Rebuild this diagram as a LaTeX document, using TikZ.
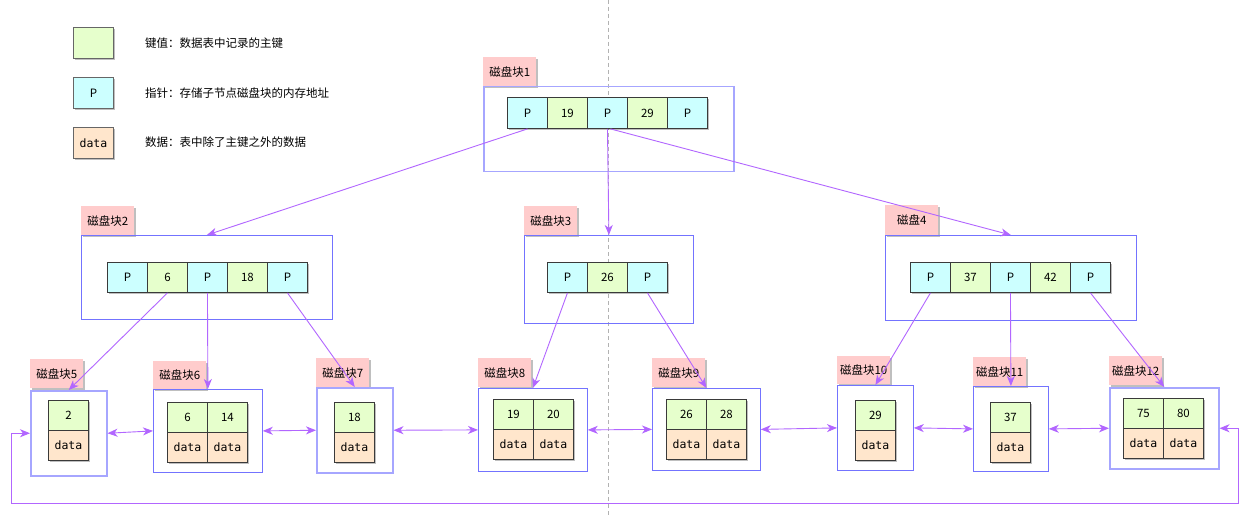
\documentclass[tikz,border=0pt]{standalone}
\usepackage{fontspec}
\setmainfont{Noto Sans CJK SC}
\newfontfamily\monof{DejaVu Sans Mono}
\usetikzlibrary{arrows.meta,shadows}
\definecolor{keyg}{HTML}{E6FFCC}
\definecolor{ptrb}{HTML}{CCFFFF}
\definecolor{dato}{HTML}{FFE6CC}
\definecolor{pinkl}{HTML}{FFCCCC}
\definecolor{arrc}{HTML}{B266FF}
\definecolor{boxm}{HTML}{7373FF}
\definecolor{boxl}{HTML}{A6A6FF}
\definecolor{celll}{HTML}{3A3A3A}
\tikzset{
  shd/.style={drop shadow={shadow xshift=2pt,shadow yshift=-2pt,opacity=0.25,fill=black}},
  cellbase/.style={draw=celll, line width=0.9pt, minimum width=40pt, minimum height=30pt, inner sep=0pt, anchor=north west, shd},
  keycell/.style={cellbase, fill=keyg},
  ptrcell/.style={cellbase, fill=ptrb},
  datacell/.style={cellbase, fill=dato, font=\fontsize{11.5}{13}\monof},
  boxmid/.style={draw=boxm, line width=0.8pt, inner sep=0pt, anchor=north west},
  boxlight/.style={draw=boxl, line width=1.5pt, inner sep=0pt, anchor=north west},
  lbl/.style={fill=pinkl, inner sep=0pt, anchor=north west, minimum width=53pt, minimum height=29pt, shd},
  conn/.style={draw=arrc, line width=0.9pt, -{Stealth[length=10pt,width=8pt,inset=3pt]}},
  dconn/.style={draw=arrc, line width=0.9pt, {Stealth[length=10pt,width=8pt,inset=3pt]}-{Stealth[length=10pt,width=8pt,inset=3pt]}},
  legtxt/.style={anchor=west, inner sep=0pt}
}
\begin{document}
\begin{tikzpicture}[x=1pt,y=-1pt,font=\fontsize{11.5}{13}\selectfont]
\useasboundingbox[fill=white] (0,0) rectangle (1256,516);
% dashed guide
\coordinate (dtop) at (608,0);
\coordinate (dbot) at (608,516);
\draw[draw=black!30, dash pattern=on 4pt off 3pt, line width=0.7pt] (dtop) -- (dbot);

% legend
\node[keycell, draw=black!60, minimum height=31pt] (lgk) at (73,27) {};
\node[ptrcell, draw=black!60, minimum height=31pt] (lgp) at (73,77) {P};
\node[datacell, draw=black!60, minimum height=31pt] (lgd) at (73,127) {data};
\node[legtxt] (lgkt) at (145,43) {键值：数据表中记录的主键};
\node[legtxt] (lgpt) at (145,93) {指针：存储子节点磁盘块的内存地址};
\node[legtxt] (lgdt) at (145,142) {数据：表中除了主键之外的数据};

% block 1
\node[lbl] (l1) at (483,57) {磁盘块1};
\node[boxlight, minimum width=250pt, minimum height=85pt] (b1) at (483,86) {};
\node[ptrcell, minimum height=31pt] (b1c1) at (507,97) {P};
\node[keycell, minimum height=31pt] (b1c2) at (547,97) {19};
\node[ptrcell, minimum height=31pt] (b1c3) at (587,97) {P};
\node[keycell, minimum height=31pt] (b1c4) at (627,97) {29};
\node[ptrcell, minimum height=31pt] (b1c5) at (667,97) {P};

% block 2
\node[lbl] (l2) at (81,206) {磁盘块2};
\node[boxmid, minimum width=251pt, minimum height=84pt] (b2) at (81,235) {};
\node[ptrcell] (b2c1) at (107,262) {P};
\node[keycell] (b2c2) at (147,262) {6};
\node[ptrcell] (b2c3) at (187,262) {P};
\node[keycell] (b2c4) at (227,262) {18};
\node[ptrcell] (b2c5) at (267,262) {P};

% block 3
\node[lbl] (l3) at (524,206) {磁盘块3};
\node[boxmid, minimum width=169pt, minimum height=88pt] (b3) at (524,235) {};
\node[ptrcell] (b3c1) at (547,262) {P};
\node[keycell] (b3c2) at (587,262) {26};
\node[ptrcell] (b3c3) at (627,262) {P};

% block 4
\node[lbl, minimum height=30pt] (l4) at (885,205) {磁盘4};
\node[boxmid, minimum width=251pt, minimum height=85pt] (b4) at (885,235) {};
\node[ptrcell] (b4c1) at (910,262) {P};
\node[keycell] (b4c2) at (950,262) {37};
\node[ptrcell] (b4c3) at (990,262) {P};
\node[keycell] (b4c4) at (1030,262) {42};
\node[ptrcell] (b4c5) at (1070,262) {P};

% leaf 5
\node[lbl] (l5) at (30,359) {磁盘块5};
\node[boxlight, minimum width=76pt, minimum height=85pt] (b5) at (30,390) {};
\node[keycell] (b5k1) at (48,400) {2};
\node[datacell] (b5d1) at (48,430) {data};

% leaf 6
\node[lbl, minimum height=28pt] (l6) at (153,361) {磁盘块6};
\node[boxmid, minimum width=109pt, minimum height=83pt] (b6) at (153,389) {};
\node[keycell] (b6k1) at (167,402) {6};
\node[keycell] (b6k2) at (207,402) {14};
\node[datacell] (b6d1) at (167,432) {data};
\node[datacell] (b6d2) at (207,432) {data};

% leaf 7
\node[lbl] (l7) at (316,358) {磁盘块7};
\node[boxlight, minimum width=76pt, minimum height=85pt] (b7) at (316,387) {};
\node[keycell] (b7k1) at (334,402) {18};
\node[datacell] (b7d1) at (334,432) {data};

% leaf 8
\node[lbl] (l8) at (478,358) {磁盘块8};
\node[boxmid, minimum width=109pt, minimum height=83pt] (b8) at (478,388) {};
\node[keycell] (b8k1) at (493,399) {19};
\node[keycell] (b8k2) at (533,399) {20};
\node[datacell] (b8d1) at (493,429) {data};
\node[datacell] (b8d2) at (533,429) {data};

% leaf 9
\node[lbl] (l9) at (652,358) {磁盘块9};
\node[boxmid, minimum width=108pt, minimum height=82pt] (b9) at (652,388) {};
\node[keycell] (b9k1) at (666,399) {26};
\node[keycell] (b9k2) at (706,399) {28};
\node[datacell] (b9d1) at (666,429) {data};
\node[datacell] (b9d2) at (706,429) {data};

% leaf 10
\node[lbl, minimum height=28pt] (l10) at (837,356) {磁盘块10};
\node[boxmid, minimum width=76pt, minimum height=85pt] (b10) at (837,385) {};
\node[keycell] (b10k1) at (855,400) {29};
\node[datacell] (b10d1) at (855,430) {data};

% leaf 11
\node[lbl] (l11) at (973,357) {磁盘块11};
\node[boxmid, minimum width=75pt, minimum height=85pt] (b11) at (973,386) {};
\node[keycell] (b11k1) at (990,402) {37};
\node[datacell] (b11d1) at (990,432) {data};

% leaf 12
\node[lbl] (l12) at (1109,356) {磁盘块12};
\node[boxlight, minimum width=109pt, minimum height=81pt] (b12) at (1109,387) {};
\node[keycell] (b12k1) at (1123,398) {75};
\node[keycell] (b12k2) at (1163,398) {80};
\node[datacell] (b12d1) at (1123,428) {data};
\node[datacell] (b12d2) at (1163,428) {data};

% tree connectors
\draw[conn] (b1c1.south) -- (b2.north);
\draw[conn] (b1c3.south) -- (b3.north);
\draw[conn] ([xshift=3pt]b1c3.south) -- (b4.north);
\draw[conn] (b2c2.south) -- (b5.north);
\draw[conn] (b2c3.south) -- (b6.north);
\draw[conn] (b2c5.south) -- (b7.north);
\draw[conn] (b3c1.south) -- (b8.north);
\draw[conn] (b3c3.south) -- (b9.north);
\draw[conn] (b4c1.south) -- (b10.north);
\draw[conn] (b4c3.south) -- (b11.north);
\draw[conn] (b4c5.south) -- (b12.north);

% leaf links
\draw[dconn] (b5.east) -- (b6.west);
\draw[dconn] (b6.east) -- (b7.west);
\draw[dconn] (b7.east) -- (b8.west);
\draw[dconn] (b8.east) -- (b9.west);
\draw[dconn] (b9.east) -- (b10.west);
\draw[dconn] (b10.east) -- (b11.west);
\draw[dconn] (b11.east) -- (b12.west);
\coordinate (lr) at (1238,503);
\coordinate (ll) at (11,503);
\draw[dconn] (b12.east) -| (lr) -- (ll) |- (b5.west);
\end{tikzpicture}
\end{document}
